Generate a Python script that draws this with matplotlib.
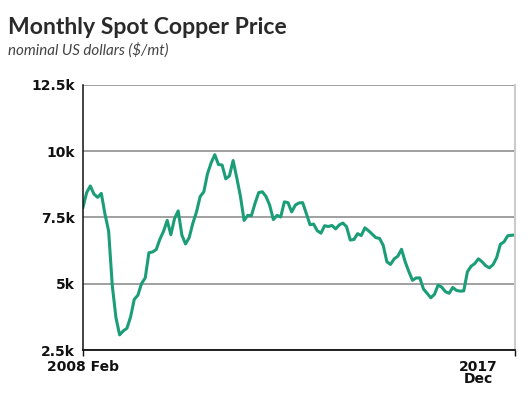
import matplotlib
matplotlib.use('Agg')
import matplotlib.pyplot as plt
import matplotlib.transforms as mtransforms

# monthly spot copper price, 2008 Feb - 2017 Dec (US$/mt)
p2008 = [7890, 8440, 8690, 8380, 8260, 8410, 7630, 6990, 4930, 3720, 3070]
p2009 = [3220, 3320, 3750, 4410, 4570, 5010, 5220, 6170, 6200, 6290, 6680, 6980]
p2010 = [7390, 6850, 7460, 7750, 6840, 6500, 6740, 7280, 7710, 8290, 8470, 9150]
p2011 = [9560, 9870, 9500, 9480, 8960, 9070, 9650, 9000, 8300, 7390, 7580, 7570]
p2012 = [8040, 8440, 8470, 8290, 7960, 7420, 7580, 7520, 8090, 8060, 7710, 7970]
p2013 = [8050, 8060, 7650, 7230, 7250, 7000, 6910, 7190, 7160, 7200, 7070, 7220]
p2014 = [7290, 7150, 6650, 6670, 6890, 6820, 7110, 7000, 6870, 6740, 6710, 6450]
p2015 = [5830, 5730, 5940, 6040, 6300, 5830, 5460, 5130, 5220, 5220, 4800, 4640]
p2016 = [4470, 4600, 4950, 4870, 4700, 4640, 4860, 4750, 4720, 4730, 5450, 5660]
p2017 = [5760, 5940, 5830, 5680, 5600, 5720, 5990, 6490, 6580, 6810, 6830, 6840]
prices = p2008 + p2009 + p2010 + p2011 + p2012 + p2013 + p2014 + p2015 + p2016 + p2017

y_ticks = [2500, 5000, 7500, 10000, 12500]
y_labels = ['2.5k', '5k', '7.5k', '10k', '12.5k']
x_labels = ['2008 Feb', '2017\nDec']

fig = plt.figure(figsize=(5.28, 3.97), dpi=100)
ax = fig.add_axes([83/528, 1-350/397, (515-83)/528, (350-85)/397])

months = list(range(len(prices)))
ax.plot(months, prices, color='#1b9e77', linewidth=2.2, solid_joinstyle='round')

ax.set_xlim(0, len(prices) - 1)
ax.set_ylim(2500, 12500)
ax.set_yticks(y_ticks)
ax.set_yticklabels(y_labels, fontsize=10, fontweight='bold', color='#111111', fontfamily='DejaVu Sans')
ax.yaxis.grid(True, color='#999999', linewidth=1.3)
ax.set_axisbelow(True)
ax.tick_params(axis='y', length=0, pad=6)

ax.set_xticks([0, len(prices) - 1])
ax.set_xticklabels(x_labels, fontsize=10, fontweight='bold', color='#111111',
                   fontfamily='DejaVu Sans', linespacing=0.85)
ax.tick_params(axis='x', length=4, width=1, color='#111111', pad=3)
# last label sits left of its tick
shift = mtransforms.ScaledTranslation(-0.37, 0, fig.dpi_scale_trans)
lbl = ax.get_xticklabels()[-1]
lbl.set_transform(lbl.get_transform() + shift)

ax.spines['top'].set_visible(False)
ax.spines['right'].set_color('#cccccc')
ax.spines['right'].set_linewidth(1.5)
ax.spines['left'].set_color('#111111')
ax.spines['left'].set_linewidth(1.1)
ax.spines['bottom'].set_color('#111111')
ax.spines['bottom'].set_linewidth(1.3)

fig.text(8/528, 1-34/397, 'Monthly Spot Copper Price', fontsize=16.6, fontweight='bold',
         color='#2a2a2a', fontfamily='Lato', va='baseline')
fig.text(8/528, 1-55/397, 'nominal US dollars ($/mt)', fontsize=10.9, style='italic',
         color='#444444', fontfamily='Lato', va='baseline')

fig.savefig('out.png', dpi=100)
